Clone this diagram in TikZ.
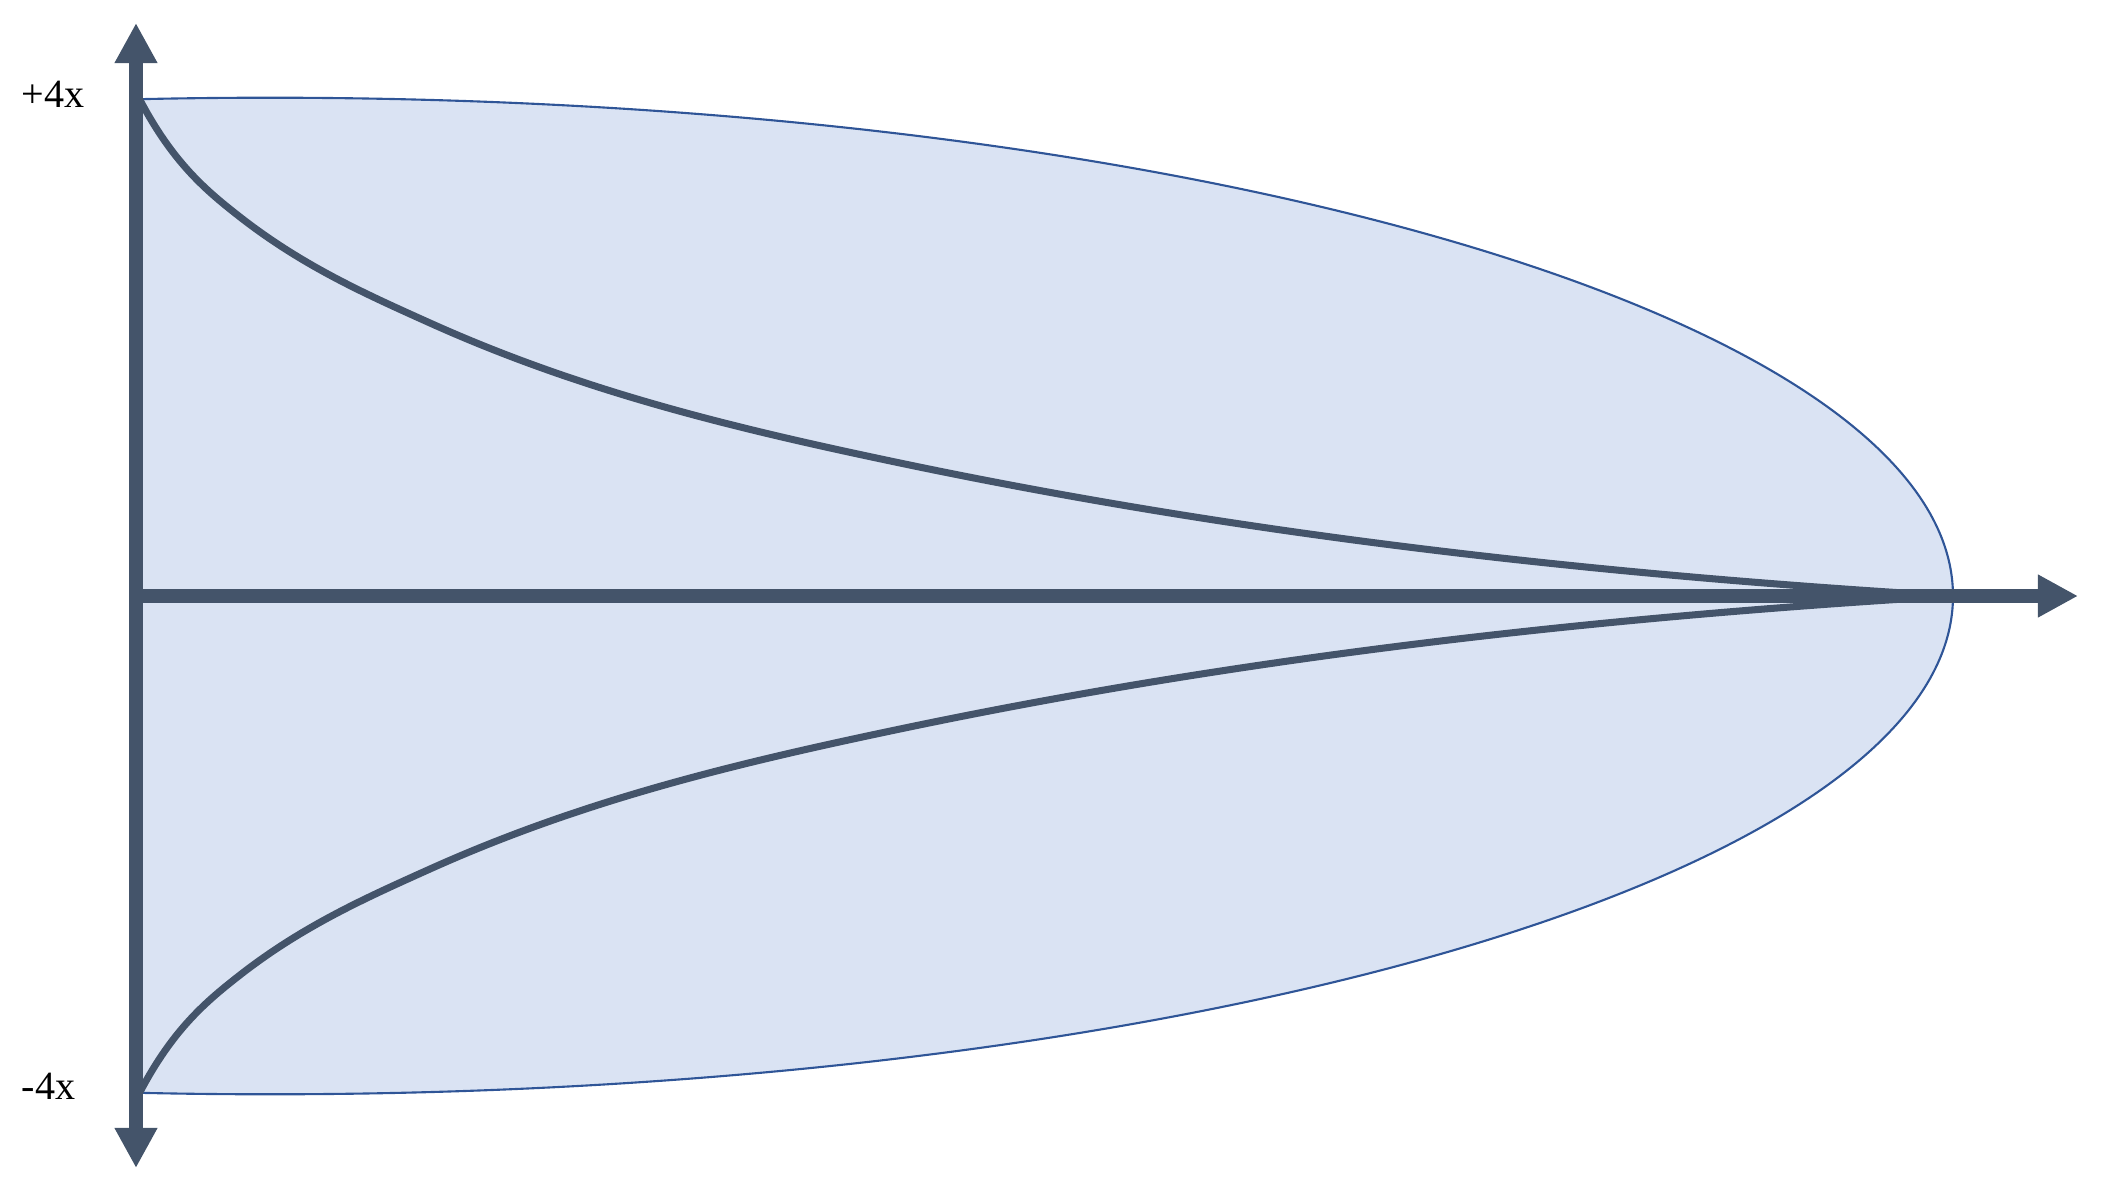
\documentclass[tikz,border=0pt]{standalone}
\usepackage{fontspec}
\setmainfont{Liberation Serif}
\usetikzlibrary{arrows.meta}
\definecolor{axiscol}{HTML}{44546A}
\definecolor{fillcol}{HTML}{DAE3F3}
\definecolor{edgecol}{HTML}{2F5597}
\tikzset{
  axisline/.style={draw=axiscol, line width=3.7pt, -{Triangle[length=11.4pt,width=11.4pt]}},
  dualaxis/.style={draw=axiscol, line width=3.7pt, {Triangle[length=11.4pt,width=11.4pt]}-{Triangle[length=11.4pt,width=11.4pt]}},
  curveline/.style={draw=axiscol, line width=2pt, line cap=round},
  lbl/.style={font=\fontsize{11.4pt}{13pt}\selectfont, inner sep=0pt, anchor=base west}
}
\begin{document}
\begin{tikzpicture}[x=0.01cm, y=-0.01cm]
\useasboundingbox (0,0) rectangle (2103,1191);
% lens shaped region
\begin{scope}
  \clip (136,0) rectangle (2103,1191);
  \filldraw[fill=fillcol, draw=edgecol, line width=0.6pt] (270,596) ellipse [x radius=16.82cm, y radius=4.98cm];
\end{scope}
% coordinates
\coordinate (top) at (136,23);
\coordinate (bot) at (136,1168);
\coordinate (orig) at (136,596);
\coordinate (xend) at (2078,596);
\coordinate (meet) at (1952,596);
\coordinate (u0) at (140,100);
\coordinate (u1) at (240,217);
\coordinate (u2) at (430,323);
\coordinate (u3) at (900,463);
\coordinate (l0) at (140,1092);
\coordinate (l1) at (240,975);
\coordinate (l2) at (430,869);
\coordinate (l3) at (900,729);
% curves
\draw[curveline] (u0) .. controls (173.3,163.3) and (206.7,191) .. (u1)
  .. controls (303.3,266.4) and (366.7,294.5) .. (u2)
  .. controls (586.7,393.5) and (743.3,430.1) .. (u3)
  .. controls (1250.7,536.6) and (1601.3,575) .. (meet);
\draw[curveline] (l0) .. controls (173.3,1028.7) and (206.7,1001) .. (l1)
  .. controls (303.3,925.6) and (366.7,897.5) .. (l2)
  .. controls (586.7,798.5) and (743.3,761.9) .. (l3)
  .. controls (1250.7,655.4) and (1601.3,617) .. (meet);
% axes
\draw[dualaxis] (bot) -- (top);
\draw[axisline] (orig) -- (xend);
% labels
\node[lbl] (plus) at (21,108) {+4x};
\node[lbl] (minus) at (21,1099) {-4x};
\end{tikzpicture}
\end{document}
